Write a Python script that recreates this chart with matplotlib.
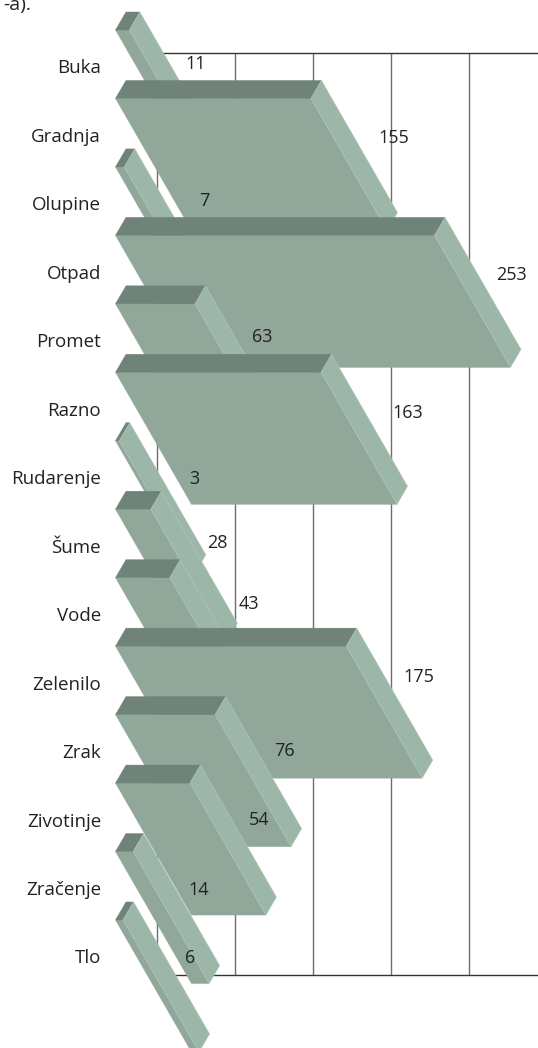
import matplotlib
matplotlib.use("Agg")
import matplotlib.pyplot as plt
from matplotlib.patches import Polygon

categories = ["Buka", "Gradnja", "Olupine", "Otpad", "Promet", "Razno", "Rudarenje",
              "Šume", "Vode", "Zelenilo", "Zrak", "Zivotinje", "Zračenje", "Tlo"]
value_labels = [11, 155, 7, 253, 63, 163, 3, 28, 43, 175, 76, 54, 14, 6]
# lengths as actually drawn in the picture (differ slightly from the printed labels)
drawn_lengths = [11, 155, 7, 253, 63, 163, 3, 28, 43, 183, 79, 59, 14, 6]
label_dx_px = [66, 83, 80, 77, 67, 87, 75, 67, 79, 73, 69, 69, 66, 67]
label_dy_px = [34, 40, 34, 40, 33, 41, 38, 34, 26, 31, 36, 37, 38, 38]

W, H = 538, 1048
PX0, PY0 = 115.5, 30.0      # pixel of value 0 / category 0 (front top)
SX, SY = 1.261, 68.46       # px per value unit, px per category
shear_px, height_px = 76.0, 132.0
depth_dx_px, depth_dy_px = 10.5, 18.0

fig = plt.figure(figsize=(W / 100, H / 100), dpi=100)
ax = fig.add_axes([0, 0, 1, 1])
ax.set_xlim((0 - PX0) / SX, (W - PX0) / SX)
ax.set_ylim((H - PY0) / SY, (0 - PY0) / SY)
ax.axis("off")

FONT = "Open Sans"
C_FRONT, C_SIDE, C_TOP = "#90a79a", "#9cb6a8", "#6f8378"

# walls / grid
grid_first = (157 - PX0) / SX
grid_step = 78 / SX
y_top = (53.5 - PY0) / SY
y_bot = (974.5 - PY0) / SY
for k in range(5):
    ax.vlines(grid_first + k * grid_step, y_top, y_bot, color="#6e6e6e", lw=1.0, zorder=1)
ax.hlines([y_top, y_bot], grid_first, (W - PX0) / SX, color="#333333", lw=1.0, zorder=1)

sx = shear_px / SX
sy = height_px / SY
dx = depth_dx_px / SX
dy = depth_dy_px / SY

for i, v in enumerate(drawn_lengths):
    z = 2 + i * 0.1
    front = [(0, i), (v, i), (v + sx, i + sy), (sx, i + sy)]
    top = [(0, i), (dx, i - dy), (v + dx, i - dy), (v, i)]
    side = [(v, i), (v + dx, i - dy), (v + sx + dx, i + sy - dy), (v + sx, i + sy)]
    ax.add_patch(Polygon(front, closed=True, fc=C_FRONT, ec=C_FRONT, lw=0.3, zorder=z))
    ax.add_patch(Polygon(top, closed=True, fc=C_TOP, ec=C_TOP, lw=0.3, zorder=z))
    ax.add_patch(Polygon(side, closed=True, fc=C_SIDE, ec="#b4c8bd", lw=0.4, zorder=z))

for i, name in enumerate(categories):
    ax.text((101 - PX0) / SX, i + 38.5 / SY, name, ha="right", va="center",
            family=FONT, fontsize=13.5, color="#222222", zorder=10)

for i, (lab, v) in enumerate(zip(value_labels, drawn_lengths)):
    ax.text(v + label_dx_px[i] / SX, i + label_dy_px[i] / SY, str(lab), ha="center", va="center",
            family=FONT, fontsize=13, color="#222222", zorder=10)

ax.text((3 - PX0) / SX, (5 - PY0) / SY, "-a).", ha="left", va="center",
        family=FONT, fontsize=14, color="#222222", zorder=10)

fig.savefig("out.png", dpi=100)
